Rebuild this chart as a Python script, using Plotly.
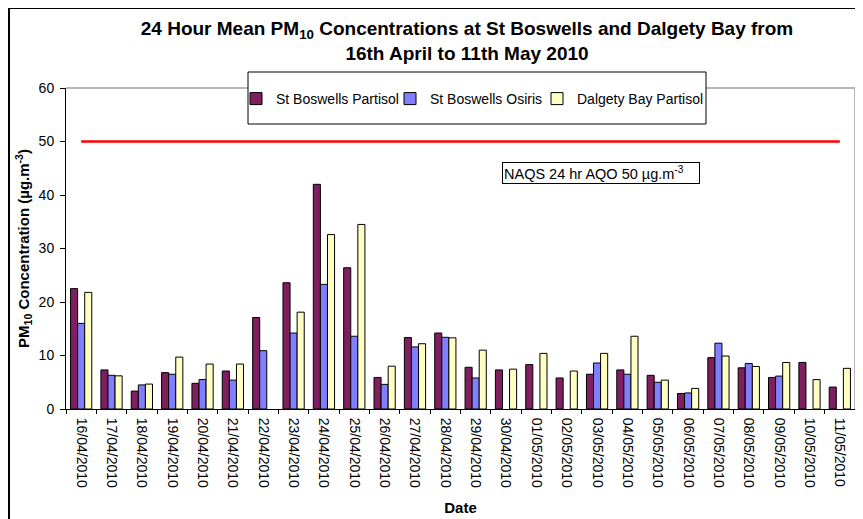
import plotly.graph_objects as go

dates = ["16/04/2010", "17/04/2010", "18/04/2010", "19/04/2010", "20/04/2010", "21/04/2010",
         "22/04/2010", "23/04/2010", "24/04/2010", "25/04/2010", "26/04/2010", "27/04/2010",
         "28/04/2010", "29/04/2010", "30/04/2010", "01/05/2010", "02/05/2010", "03/05/2010",
         "04/05/2010", "05/05/2010", "06/05/2010", "07/05/2010", "08/05/2010", "09/05/2010",
         "10/05/2010", "11/05/2010"]

st_boswells_partisol = [22.5, 7.3, 3.35, 6.8, 4.8, 7.1, 17.1, 23.6, 42.0, 26.4, 5.9, 13.35, 14.2,
                        7.8, 7.3, 8.3, 5.8, 6.5, 7.3, 6.3, 2.9, 9.6, 7.7, 5.9, 8.7, 4.1]
st_boswells_osiris = [16.0, 6.3, 4.5, 6.5, 5.5, 5.4, 10.9, 14.2, 23.3, 13.6, 4.6, 11.6, 13.4,
                      5.8, None, None, None, 8.6, 6.5, 5.0, 3.0, 12.3, 8.5, 6.15, None, None]
dalgety_bay_partisol = [21.8, 6.2, 4.66, 9.7, 8.4, 8.4, None, 18.1, 32.6, 34.5, 8.0, 12.2, 13.3,
                        11.0, 7.45, 10.4, 7.1, 10.4, 13.6, 5.4, 3.85, 9.9, 7.95, 8.7, 5.5, 7.6]
series_names = ["St Boswells Partisol", "St Boswells Osiris", "Dalgety Bay Partisol"]
aqo_limit = 50
y_ticks = [0, 10, 20, 30, 40, 50, 60]

FONT = "Arial, Liberation Sans, sans-serif"
colors = ["#7F1F5F", "#8080FF", "#FFFFC4"]

# page offset observed in rendering
OFF = 8
W, H = 863, 519
# target plot area in screenshot pixels: x 66..855, y 88..409
L, T = 66 - OFF, 88 - OFF
pw, ph = 789, 321
R = W - L - pw
B = H - T - ph


def px(x):
    return (x - 66) / pw


def py(y):
    return (409 - y) / ph


fig = go.Figure()
legend_ids = ["legend", "legend2", "legend3"]
for name, vals, col, lg in zip(series_names,
                               [st_boswells_partisol, st_boswells_osiris, dalgety_bay_partisol],
                               colors, legend_ids):
    fig.add_trace(go.Bar(x=dates, y=vals, name=name, legend=lg,
                         marker=dict(color=col, line=dict(color="black", width=1))))

fig.add_trace(go.Scatter(x=[dates[0], dates[-1]], y=[aqo_limit, aqo_limit], mode="lines",
                         line=dict(color="#FF0000", width=2.5), showlegend=False,
                         hoverinfo="skip"))

leg_common = dict(orientation="h", xanchor="left", yanchor="middle", y=py(99),
                  bgcolor="rgba(0,0,0,0)", borderwidth=0, font=dict(size=14, family=FONT))
# symbol centre sits ~20px right of legend x
sym_x = [256, 410, 557]

fig.update_layout(
    template="none",
    width=W, height=H,
    margin=dict(l=L, r=R, t=T, b=B, autoexpand=False),
    paper_bgcolor="white", plot_bgcolor="white",
    font=dict(family=FONT, color="black", size=14),
    barmode="group", bargap=0.3, bargroupgap=0,
    title=dict(text="<b>24 Hour Mean PM<sub>10</sub> Concentrations at St Boswells and Dalgety Bay from<br>16th April to 11th May 2010</b>",
               x=px(467), xref="paper", xanchor="center",
               y=1 - 27 / H, yref="container", yanchor="top",
               font=dict(size=19, family=FONT)),
    showlegend=True,
    legend=dict(x=px(sym_x[0] - 20), **leg_common),
    legend2=dict(x=px(sym_x[1] - 20), **leg_common),
    legend3=dict(x=px(sym_x[2] - 20), **leg_common),
    xaxis=dict(type="category", range=[-0.5, len(dates) - 0.5], tickangle=90,
               automargin=False,
               showline=True, linecolor="black", linewidth=1, ticks="outside",
               tickson="boundaries", ticklen=4, tickcolor="black", showgrid=False,
               zeroline=False, tickfont=dict(size=14), ticklabelstandoff=5,
               title=dict(text="<b>Date</b>", font=dict(size=15), standoff=15)),
    yaxis=dict(range=[0, 60], tickvals=y_ticks, showline=True, linecolor="black", linewidth=1,
               automargin=False,
               ticks="outside", ticklen=5, tickcolor="black", showgrid=False, zeroline=False,
               tickfont=dict(size=14), ticklabelstandoff=3,
               title=dict(text="<b>PM<sub>10</sub> Concentration (µg.m<sup>-3</sup>)</b>",
                          font=dict(size=15), standoff=5)),
    shapes=[
        dict(type="line", xref="paper", yref="paper", x0=0, x1=1, y0=1, y1=1,
             line=dict(color="#A0A0A0", width=1.5), layer="below"),
        dict(type="line", xref="paper", yref="paper", x0=1, x1=1, y0=0, y1=1,
             line=dict(color="#A0A0A0", width=1.5), layer="below"),
        dict(type="rect", xref="paper", yref="paper", x0=px(248), x1=px(706), y0=py(124), y1=py(72),
             line=dict(color="black", width=1), fillcolor="white", layer="above"),
        dict(type="rect", xref="paper", yref="paper", x0=px(9), x1=px(W + 30), y0=py(H + 30), y1=py(8),
             line=dict(color="black", width=2), fillcolor="rgba(0,0,0,0)", layer="above"),
    ],
    annotations=[
        dict(text="NAQS 24 hr AQO 50 µg.m<sup>-3</sup>", xref="paper", yref="paper",
             x=px(502), y=py(162), xanchor="left", yanchor="top", showarrow=False,
             align="left", width=194, height=18, bordercolor="black", borderwidth=1,
             borderpad=1, bgcolor="white", font=dict(size=14.5)),
    ],
)

fig.write_html("out.html")
